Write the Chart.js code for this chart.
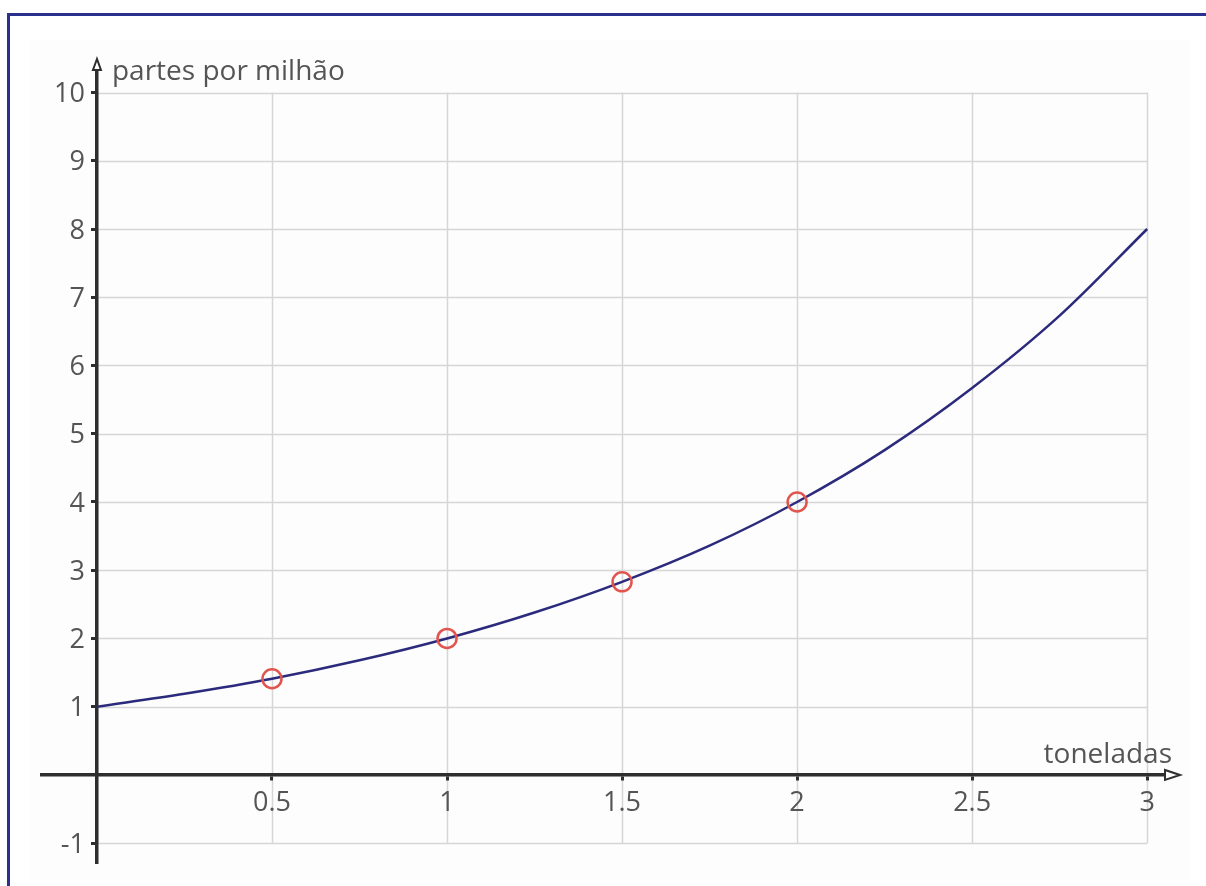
<!DOCTYPE html>
<html lang="pt">
<head>
<meta charset="UTF-8">
<title>partes por milhão x toneladas</title>
<script src="https://cdn.jsdelivr.net/npm/chart.js"></script>
<style>
  body { margin: 0; background: #fff; }
  #wrap { position: relative; width: 1206px; height: 886px; overflow: hidden; }
  #panel { position: absolute; left: 30px; top: 40px; width: 1160px; height: 840px; background: #fdfdfd; }
  #frame { position: absolute; left: 7px; top: 13px; width: 1300px; height: 1000px;
           border-left: 3px solid #2b2f8e; border-top: 3px solid #2b2f8e; }
  canvas { position: absolute; left: 0; top: 0; }
</style>
</head>
<body>
<div id="wrap">
  <div id="panel"></div>
  <div id="frame"></div>
  <canvas id="chart" width="1206" height="886"></canvas>
</div>
<script>
// curve (toneladas -> partes por milhão)
const curveX = [0, 0.25, 0.5, 0.75, 1, 1.25, 1.5, 1.75, 2, 2.25, 2.5, 2.75, 3];
const curveY = [1, 1.19, 1.41, 1.68, 2, 2.38, 2.83, 3.36, 4, 4.76, 5.67, 6.73, 8];

// marked points
const markX = [0.5, 1, 1.5, 2];
const markY = [1.41, 2, 2.83, 4];

// tick labels
const xTicks = [0, 0.5, 1, 1.5, 2, 2.5, 3];
const yTicks = [-1, 0, 1, 2, 3, 4, 5, 6, 7, 8, 9, 10];

const xTitle = 'toneladas';
const yTitle = 'partes por milhão';

const labelFont = { family: '"Open Sans"', size: 27 };
const labelColor = '#555';
const axisColor = '#2e2e2e';

const tickLabel = v => (v === 0 ? '' : String(v));

// grid only inside [0,3] x [-1,10], arrows, y labels and axis titles
const graphPlugin = {
  id: 'graph',
  beforeDraw(chart) {
    const { ctx, scales: { x, y } } = chart;
    const x0 = x.getPixelForValue(xTicks[0]);
    const x1 = x.getPixelForValue(xTicks[xTicks.length - 1]);
    const y0 = y.getPixelForValue(yTicks[0]);
    const y1 = y.getPixelForValue(yTicks[yTicks.length - 1]);
    ctx.save();
    ctx.strokeStyle = '#d6d6d6';
    ctx.lineWidth = 1.5;
    ctx.beginPath();
    xTicks.forEach(v => {
      const px = Math.round(x.getPixelForValue(v)) + 0.5;
      ctx.moveTo(px, y0);
      ctx.lineTo(px, y1);
    });
    yTicks.forEach(v => {
      const py = Math.round(y.getPixelForValue(v)) + 0.5;
      ctx.moveTo(x0, py);
      ctx.lineTo(x1, py);
    });
    ctx.stroke();
    ctx.restore();
  },
  afterDraw(chart) {
    const { ctx, chartArea, scales: { x, y } } = chart;
    const ax = x.getPixelForValue(0);
    const ay = y.getPixelForValue(0);
    ctx.save();
    ctx.strokeStyle = axisColor;
    ctx.fillStyle = '#fff';
    ctx.lineWidth = 2;
    // y arrow
    ctx.beginPath();
    ctx.moveTo(ax, chartArea.top - 11);
    ctx.lineTo(ax - 4, chartArea.top);
    ctx.lineTo(ax + 4, chartArea.top);
    ctx.closePath();
    ctx.fill();
    ctx.stroke();
    // x arrow
    ctx.beginPath();
    ctx.moveTo(chartArea.right + 15, ay);
    ctx.lineTo(chartArea.right, ay - 5);
    ctx.lineTo(chartArea.right, ay + 5);
    ctx.closePath();
    ctx.fill();
    ctx.stroke();

    ctx.fillStyle = labelColor;
    ctx.font = labelFont.size + 'px ' + labelFont.family;
    // y tick labels, left of the axis
    ctx.textAlign = 'right';
    ctx.textBaseline = 'middle';
    y.ticks.forEach(t => {
      const s = tickLabel(t.value);
      if (s) ctx.fillText(s, ax - 12, y.getPixelForValue(t.value) + 2);
    });
    ctx.textBaseline = 'alphabetic';
    ctx.font = '28px ' + labelFont.family;
    ctx.textAlign = 'left';
    ctx.fillText(yTitle, ax + 15, chartArea.top + 10);
    ctx.textAlign = 'right';
    ctx.fillText(xTitle, chartArea.right + 7, ay - 12);
    ctx.restore();
  }
};

new Chart(document.getElementById('chart'), {
  type: 'scatter',
  data: {
    datasets: [
      {
        data: markX.map((v, i) => ({ x: v, y: markY[i] })),
        pointRadius: 9.5,
        pointBorderWidth: 2.5,
        borderColor: '#e2554f',
        backgroundColor: 'rgba(0,0,0,0)',
        showLine: false
      },
      {
        data: curveX.map((v, i) => ({ x: v, y: curveY[i] })),
        showLine: true,
        pointRadius: 0,
        borderColor: '#2b2a7c',
        borderWidth: 2.5,
        cubicInterpolationMode: 'monotone'
      }
    ]
  },
  options: {
    responsive: false,
    animation: false,
    layout: { padding: { left: 42, right: 41, top: 70, bottom: 23 } },
    plugins: { legend: { display: false }, tooltip: { enabled: false } },
    scales: {
      x: {
        type: 'linear',
        position: { y: 0 },
        min: -0.157,
        max: 3.051,
        afterBuildTicks: s => { s.ticks = xTicks.map(v => ({ value: v })); },
        grid: { drawOnChartArea: false, drawTicks: true, tickLength: 4, tickWidth: 3, tickColor: axisColor },
        border: { color: axisColor, width: 3.5 },
        ticks: { callback: tickLabel, font: labelFont, color: labelColor, padding: 8, maxRotation: 0, autoSkip: false }
      },
      y: {
        type: 'linear',
        position: { x: 0 },
        min: -1.29,
        max: 10.33,
        afterBuildTicks: s => { s.ticks = yTicks.map(v => ({ value: v })); },
        grid: { drawOnChartArea: false, drawTicks: true, tickLength: 4, tickWidth: 3, tickColor: axisColor },
        border: { color: axisColor, width: 3.5 },
        ticks: { display: false }
      }
    }
  },
  plugins: [graphPlugin]
});
</script>
</body>
</html>
